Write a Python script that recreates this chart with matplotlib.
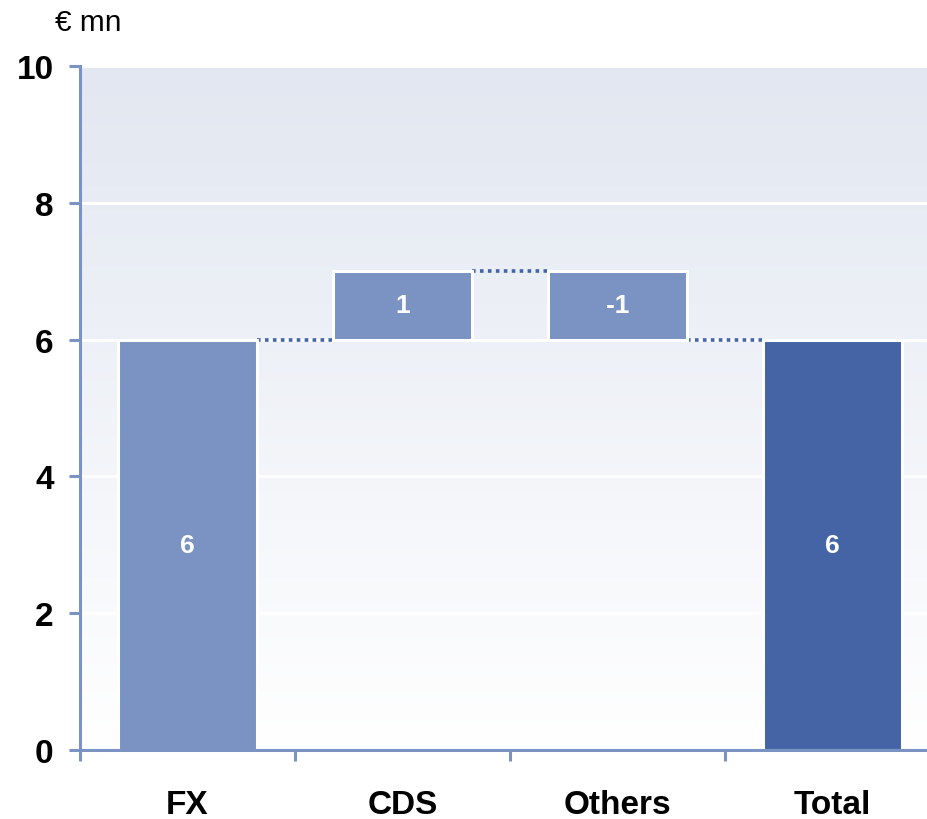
import numpy as np
import matplotlib
matplotlib.use("Agg")
import matplotlib.pyplot as plt

# Waterfall data (EUR mn)
categories = ["FX", "CDS", "Others", "Total"]
changes = [6, 1, -1, 6]
kinds = ["total", "delta", "delta", "total"]
y_ticks = [0, 2, 4, 6, 8, 10]

light = "#7b93c2"
dark = "#4464a6"
axis_col = "#7b93c2"

plt.rcParams["font.family"] = ["Liberation Sans", "DejaVu Sans"]

fig = plt.figure(figsize=(9.28, 8.2), dpi=100)
ax = fig.add_axes([80 / 928, 69 / 820, 860 / 928, 684 / 820])

x = np.arange(len(categories))
ax.set_xlim(-0.5, len(categories) - 0.5)
ax.set_ylim(0, 10)

# gradient background: blue-grey at the top fading to white at the bottom
grad = np.linspace(0, 1, 256).reshape(-1, 1)
top = np.array([0.886, 0.906, 0.945])
bot = np.array([1.0, 1.0, 1.0])
img = bot + (top - bot) * grad[:, :, None] * np.ones((1, 1, 3))
ax.imshow(img, extent=(-0.5, len(categories) - 0.5, 0, 10), origin="lower",
          aspect="auto", zorder=0)

for yv in y_ticks[1:]:
    ax.axhline(yv, color="white", lw=2, zorder=1)

# compute bar bottoms/tops
width = 0.65
running = 0
bottoms, heights = [], []
for ch, kind in zip(changes, kinds):
    if kind == "total":
        bottoms.append(0)
        heights.append(ch)
        running = ch
    else:
        start = running
        end = running + ch
        bottoms.append(min(start, end))
        heights.append(abs(ch))
        running = end
colors = [light, light, light, dark]

ax.bar(x, heights, width=width, bottom=bottoms, color=colors,
       edgecolor="white", linewidth=2.2, zorder=3)

# labels inside bars
for xi, b, h, ch in zip(x, bottoms, heights, changes):
    ax.text(xi, b + h / 2, f"{ch}", ha="center", va="center", color="white",
            fontsize=19, fontweight="bold", zorder=4)

# dotted connectors between consecutive bars
level = 0
levels = []
for ch, kind in zip(changes, kinds):
    level = ch if kind == "total" else level + ch
    levels.append(level)
for i in range(len(categories) - 1):
    ax.plot([x[i] + width / 2, x[i + 1] - width / 2], [levels[i], levels[i]],
            color=dark, lw=2.6, linestyle=(0, (1, 1.2)), zorder=2,
            solid_capstyle="butt")

# axes styling
for s in ["top", "right"]:
    ax.spines[s].set_visible(False)
for s in ["left", "bottom"]:
    ax.spines[s].set_color(axis_col)
    ax.spines[s].set_linewidth(2.2)
    ax.spines[s].set_zorder(5)

ax.set_yticks(y_ticks)
ax.set_yticklabels([str(v) for v in y_ticks], fontsize=24, fontweight="bold")
ax.tick_params(axis="y", length=8, width=2.2, color=axis_col, pad=11)

ax.set_xticks(np.arange(-0.5, len(categories)), minor=False)
ax.set_xticklabels([])
ax.tick_params(axis="x", which="major", length=8, width=2.2, color=axis_col,
               direction="out")
ax.set_xticks(x, minor=True)
ax.set_xticklabels(categories, minor=True, fontsize=24, fontweight="bold")
ax.tick_params(axis="x", which="minor", length=0, pad=28)

fig.text(55 / 928, 1 - 23 / 820, "€ mn", fontsize=21.5, ha="left", va="center")

fig.savefig("out.png", dpi=100)
